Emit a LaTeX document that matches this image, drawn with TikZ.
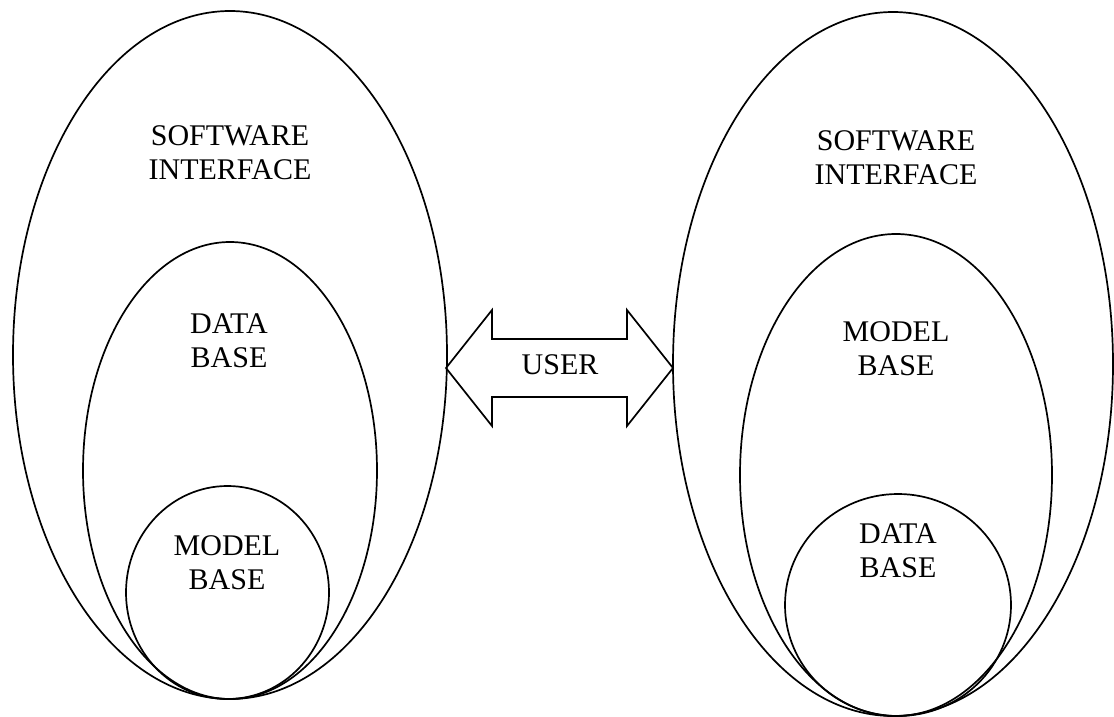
\documentclass[tikz,border=0pt]{standalone}
\usepackage{fontspec}
\setmainfont{Liberation Serif}
\usetikzlibrary{shapes.geometric,calc}
\tikzset{
  oval/.style={
    shape = ellipse,
    draw,
    inner sep = 0pt,
    line width = 1.7pt
  },
  label/.style={
    align = center,
    inner sep = 0pt,
    font = \fontsize{30}{34}\selectfont
  },
  bigarrow/.style={
    draw,
    line width = 1.7pt,
    line join = miter
  }
}
\begin{document}
\begin{tikzpicture}[x=1pt,y=-1pt]
  \useasboundingbox (0,0) rectangle (1114,717);
  % left stack
  \node[oval,minimum width=434pt,minimum height=688pt] (lsw) at (230,355) {};
  \node[oval,minimum width=294pt,minimum height=457pt] (ldb) at (230,470.5) {};
  \node[oval,minimum width=203pt,minimum height=213pt] (lmb) at (227.5,592.5) {};
  \node[label] (lswt) at (230,153) {SOFTWARE\\INTERFACE};
  \node[label] (ldbt) at (229,341) {DATA\\BASE};
  \node[label] (lmbt) at (227,563) {MODEL\\BASE};
  % right stack
  \node[oval,minimum width=440pt,minimum height=704pt] (rsw) at (893,364) {};
  \node[oval,minimum width=312pt,minimum height=482pt] (rmb) at (896,475) {};
  \node[oval,minimum width=226pt,minimum height=222pt] (rdb) at (898,605) {};
  \node[label] (rswt) at (896,158) {SOFTWARE\\INTERFACE};
  \node[label] (rmbt) at (896,349) {MODEL\\BASE};
  \node[label] (rdbt) at (898,551) {DATA\\BASE};
  % user arrow
  \coordinate (mid) at (559.5,368);
  \draw[bigarrow] ($(mid)+(-113.5,0)$) -- ++(46,-58) -- ++(0,29) -- ++(135,0)
    -- ++(0,-29) -- ++(46,58) -- ++(-46,58) -- ++(0,-29) -- ++(-135,0)
    -- ++(0,29) -- cycle;
  \node[label] (user) at (560,365) {USER};
\end{tikzpicture}
\end{document}
